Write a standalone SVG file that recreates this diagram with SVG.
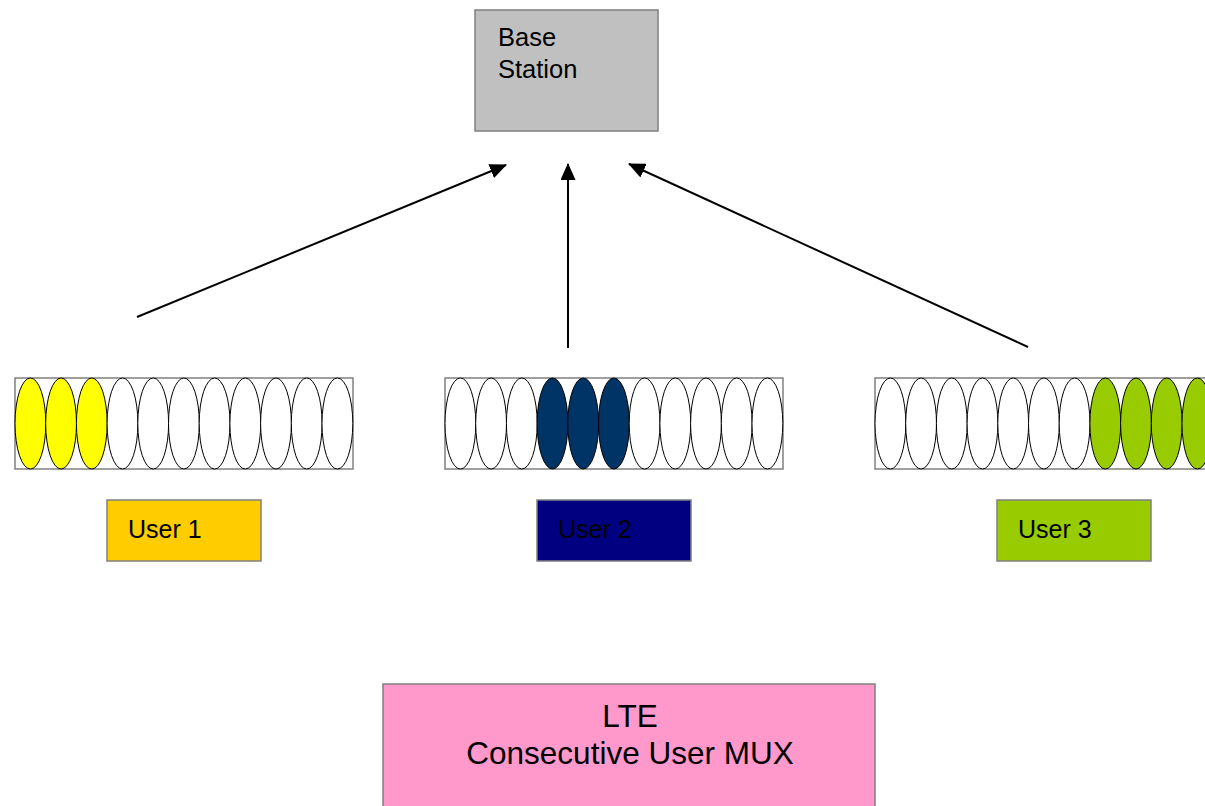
<svg xmlns="http://www.w3.org/2000/svg" width="1205" height="806" viewBox="0 0 1205 806">
<style>
.box{stroke:#808080;stroke-width:1.5}
.lbl{font-family:"Liberation Sans",Arial,sans-serif;fill:#000}
.el{stroke:#000;stroke-width:1}
.w{fill:#fff}
.strip{fill:#fff;stroke:#808080;stroke-width:1.5}
.conn{stroke:#000;stroke-width:2;fill:none}
</style>
<defs>
<marker id="arr" viewBox="0 0 17 15" refX="16" refY="7.5" markerWidth="17" markerHeight="15" orient="auto" markerUnits="userSpaceOnUse">
<path d="M0,0 L17,7.5 L0,15 z" fill="#000"/>
</marker>
</defs>
<rect width="1205" height="806" fill="#fff"/>
<g id="base-station">
<rect class="box" x="475" y="10" width="183" height="121" fill="#c0c0c0"/>
<text class="lbl" x="498" y="46" font-size="25.5">Base</text>
<text class="lbl" x="498" y="78" font-size="25.5">Station</text>
</g>
<g id="connectors">
<line class="conn" x1="137" y1="317" x2="506" y2="165" marker-end="url(#arr)"/>
<line class="conn" x1="568" y1="348" x2="568" y2="164" marker-end="url(#arr)"/>
<line class="conn" x1="1028" y1="347" x2="629" y2="164" marker-end="url(#arr)"/>
</g>
<g id="strip-1">
<rect class="strip" x="15" y="378" width="338" height="91"/>
<g class="el">
<ellipse cx="30.4" cy="423.5" rx="15.4" ry="45.5" fill="#ffff00"/>
<ellipse cx="61.1" cy="423.5" rx="15.4" ry="45.5" fill="#ffff00"/>
<ellipse cx="91.8" cy="423.5" rx="15.4" ry="45.5" fill="#ffff00"/>
<ellipse class="w" cx="122.5" cy="423.5" rx="15.4" ry="45.5"/>
<ellipse class="w" cx="153.2" cy="423.5" rx="15.4" ry="45.5"/>
<ellipse class="w" cx="183.9" cy="423.5" rx="15.4" ry="45.5"/>
<ellipse class="w" cx="214.6" cy="423.5" rx="15.4" ry="45.5"/>
<ellipse class="w" cx="245.3" cy="423.5" rx="15.4" ry="45.5"/>
<ellipse class="w" cx="276.0" cy="423.5" rx="15.4" ry="45.5"/>
<ellipse class="w" cx="306.7" cy="423.5" rx="15.4" ry="45.5"/>
<ellipse class="w" cx="337.4" cy="423.5" rx="15.4" ry="45.5"/>
</g>
</g>
<g id="strip-2">
<rect class="strip" x="445" y="378" width="338" height="91"/>
<g class="el">
<ellipse class="w" cx="460.4" cy="423.5" rx="15.4" ry="45.5"/>
<ellipse class="w" cx="491.1" cy="423.5" rx="15.4" ry="45.5"/>
<ellipse class="w" cx="521.8" cy="423.5" rx="15.4" ry="45.5"/>
<ellipse cx="552.5" cy="423.5" rx="15.4" ry="45.5" fill="#003366"/>
<ellipse cx="583.2" cy="423.5" rx="15.4" ry="45.5" fill="#003366"/>
<ellipse cx="613.9" cy="423.5" rx="15.4" ry="45.5" fill="#003366"/>
<ellipse class="w" cx="644.6" cy="423.5" rx="15.4" ry="45.5"/>
<ellipse class="w" cx="675.3" cy="423.5" rx="15.4" ry="45.5"/>
<ellipse class="w" cx="706.0" cy="423.5" rx="15.4" ry="45.5"/>
<ellipse class="w" cx="736.7" cy="423.5" rx="15.4" ry="45.5"/>
<ellipse class="w" cx="767.4" cy="423.5" rx="15.4" ry="45.5"/>
</g>
</g>
<g id="strip-3">
<rect class="strip" x="875" y="378" width="338" height="91"/>
<g class="el">
<ellipse class="w" cx="890.4" cy="423.5" rx="15.4" ry="45.5"/>
<ellipse class="w" cx="921.1" cy="423.5" rx="15.4" ry="45.5"/>
<ellipse class="w" cx="951.8" cy="423.5" rx="15.4" ry="45.5"/>
<ellipse class="w" cx="982.5" cy="423.5" rx="15.4" ry="45.5"/>
<ellipse class="w" cx="1013.2" cy="423.5" rx="15.4" ry="45.5"/>
<ellipse class="w" cx="1043.9" cy="423.5" rx="15.4" ry="45.5"/>
<ellipse class="w" cx="1074.6" cy="423.5" rx="15.4" ry="45.5"/>
<ellipse cx="1105.3" cy="423.5" rx="15.4" ry="45.5" fill="#99cc00"/>
<ellipse cx="1136.0" cy="423.5" rx="15.4" ry="45.5" fill="#99cc00"/>
<ellipse cx="1166.7" cy="423.5" rx="15.4" ry="45.5" fill="#99cc00"/>
<ellipse cx="1197.4" cy="423.5" rx="15.4" ry="45.5" fill="#99cc00"/>
</g>
</g>
<g id="user-1">
<rect class="box" x="107" y="500" width="154" height="61" fill="#ffcc00"/>
<text class="lbl" x="128" y="538" font-size="25">User 1</text>
</g>
<g id="user-2">
<rect class="box" x="537" y="500" width="154" height="61" fill="#000080"/>
<text class="lbl" x="558" y="538" font-size="25">User 2</text>
</g>
<g id="user-3">
<rect class="box" x="997" y="500" width="154" height="61" fill="#99cc00"/>
<text class="lbl" x="1018" y="538" font-size="25">User 3</text>
</g>
<g id="lte">
<rect class="box" x="383" y="684" width="492" height="130" fill="#ff99cc"/>
<text class="lbl" x="630" y="727" font-size="31.5" text-anchor="middle">LTE</text>
<text class="lbl" x="630" y="764" font-size="31.5" text-anchor="middle">Consecutive User MUX</text>
</g>
</svg>
